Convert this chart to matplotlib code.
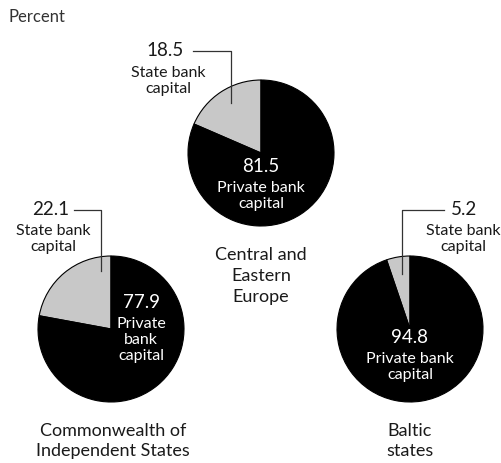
import matplotlib
matplotlib.use("Agg")
import matplotlib.pyplot as plt

regions = ["Central and\nEastern\nEurope", "Commonwealth of\nIndependent States", "Baltic\nstates"]
state_share = [18.5, 22.1, 5.2]
private_share = [81.5, 77.9, 94.8]
state_label = "State bank\ncapital"
private_labels = ["Private bank\ncapital", "Private\nbank\ncapital", "Private bank\ncapital"]

W, H = 501, 464
plt.rcParams['font.family'] = ['Lato', 'DejaVu Sans']
fig = plt.figure(figsize=(W / 100, H / 100), dpi=100)
ax = fig.add_axes([0, 0, 1, 1])

def Y(py):
    return H - py

# layout (pixels): pie center, radius
centers = [(261, 154), (111, 330), (410, 330)]
radius = 73
title_pos = [(261, 276), (113, 441), (410, 441)]
# leader: (x vertical, y bottom, y top, x end of horizontal)
leaders = [(231, 104, 52, 193), (101, 272, 211, 74), (402, 275, 211, 444)]
num_pos = [(184, 51, 'right'), (69, 210, 'right'), (451, 210, 'left')]
lab_pos = [(168, 81), (53, 239), (463, 239)]
priv_num = [(261, 166), (141, 303), (410, 338)]
priv_lab = [(261, 196), (141, 340), (410, 367)]

grey = '#c8c8c8'
tc = '#1a1a1a'
for i in range(3):
    cx, cy = centers[i]
    ax.pie([state_share[i], private_share[i]], startangle=90, counterclock=True,
           colors=[grey, 'black'], center=(cx, Y(cy)), radius=radius,
           wedgeprops=dict(edgecolor='black', linewidth=0.8), frame=True)
    xv, yb, yt, xe = leaders[i]
    ax.plot([xv, xv, xe], [Y(yb), Y(yt), Y(yt)], color='#333333', lw=0.9)
    nx, ny, ha = num_pos[i]
    ax.text(nx, Y(ny), f"{state_share[i]:.1f}", ha=ha, va='center', fontsize=13.5, color=tc)
    lx, ly = lab_pos[i]
    ax.text(lx, Y(ly), state_label, ha='center', va='center', multialignment='center',
            fontsize=11.5, color=tc, linespacing=1.15)
    px, py = priv_num[i]
    ax.text(px, Y(py), f"{private_share[i]:.1f}", ha='center', va='center', fontsize=13.5, color='white')
    qx, qy = priv_lab[i]
    ax.text(qx, Y(qy), private_labels[i], ha='center', va='center', multialignment='center',
            fontsize=11.5, color='white', linespacing=1.15)
    tx, ty = title_pos[i]
    ax.text(tx, Y(ty), regions[i], ha='center', va='center', multialignment='center',
            fontsize=13, color=tc, linespacing=1.35)

ax.set_xlim(0, W)
ax.set_ylim(0, H)
ax.set_aspect('equal')
ax.axis('off')
ax.text(8, Y(17), "Percent", ha='left', va='center', fontsize=12, color='#333333')

fig.savefig("out.png", dpi=100)
